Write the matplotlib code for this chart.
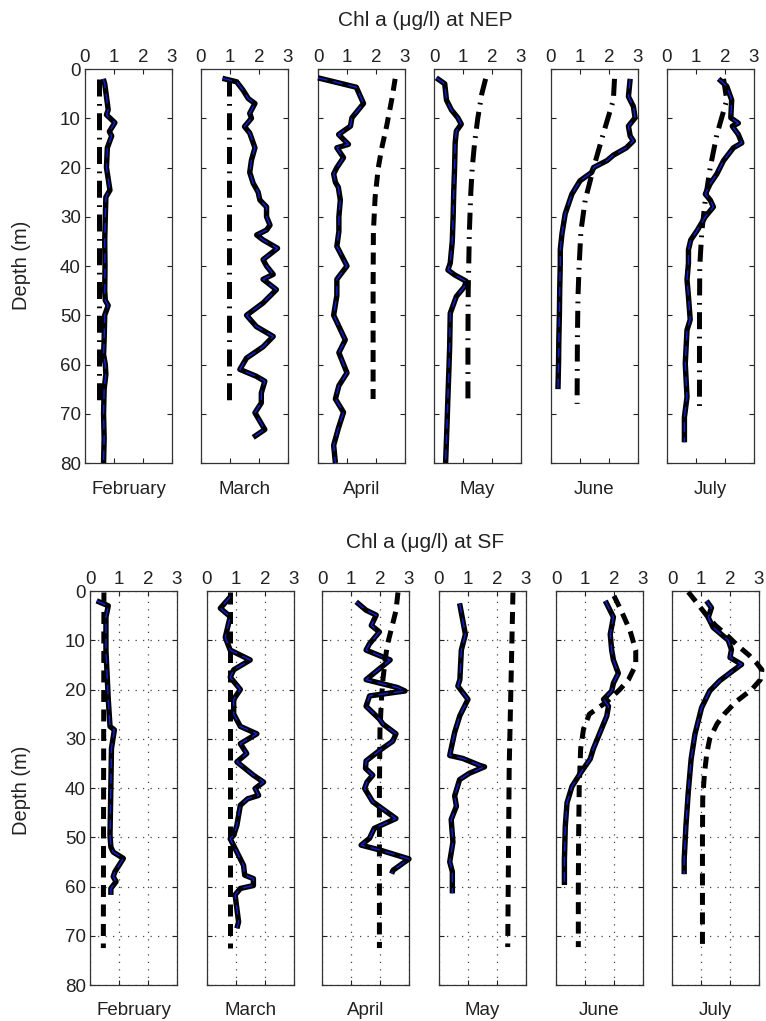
import matplotlib
matplotlib.use("Agg")
import matplotlib.pyplot as plt

plt.rcParams['font.family'] = ['Liberation Sans', 'DejaVu Sans']

W, H = 766, 1021
fig = plt.figure(figsize=(W / 100, H / 100), dpi=100)

months = ["February", "March", "April", "May", "June", "July"]
x_ticks = [0, 1, 2, 3]
depth_ticks = [0, 10, 20, 30, 40, 50, 60, 70, 80]

# ---------------- NEP: observed profiles (depth m, chl ug/l) ----------------
nep_feb_z = [2, 3, 5.6, 8.3, 9.3, 10.9, 12.7, 13.6, 16, 20, 24.6, 26, 30, 35, 40, 45, 47, 48, 50, 55, 58, 60, 62, 65, 70, 75, 80]
nep_feb_c = [0.63, 0.68, 0.74, 0.80, 0.74, 1.03, 0.84, 0.92, 0.77, 0.74, 0.86, 0.72, 0.70, 0.68, 0.69, 0.68, 0.70, 0.80, 0.68, 0.66, 0.64, 0.70, 0.72, 0.66, 0.64, 0.66, 0.64]
nep_mar_z = [1.9, 2.6, 4.3, 6, 7, 9, 10, 11.7, 13, 16, 18.5, 21, 23.2, 25, 26.6, 28, 30, 31.7, 32.7, 33.7, 34.7, 36.4, 38.7, 40, 41.7, 42.7, 44.8, 47.5, 50, 52.3, 54.3, 56.4, 58.7, 61, 62.4, 63.4, 65.8, 67.8, 69.8, 73.2, 74.8]
nep_mar_c = [0.74, 1.23, 1.45, 1.63, 1.86, 1.68, 1.74, 1.50, 1.68, 1.86, 1.74, 1.68, 1.80, 1.97, 2.03, 2.26, 2.26, 2.38, 2.26, 1.92, 2.14, 2.64, 2.14, 2.26, 2.49, 2.14, 2.60, 2.14, 1.57, 1.91, 2.49, 2.14, 1.57, 1.34, 1.91, 2.20, 2.08, 2.08, 1.86, 2.20, 1.80]
nep_apr_z = [1.8, 3.7, 7, 9.9, 11.6, 13.3, 15.3, 16, 18, 20, 21.3, 23, 24, 26.6, 30, 33, 36, 40, 42.7, 46, 50, 55, 57.6, 61.7, 64.3, 67, 69.7, 73, 76.4, 80]
nep_apr_c = [0.0, 1.32, 1.57, 1.17, 1.12, 0.71, 1.05, 0.65, 0.88, 0.65, 0.54, 0.60, 0.70, 0.77, 0.72, 0.72, 0.65, 1.00, 0.65, 0.65, 0.54, 0.94, 0.72, 1.00, 0.72, 0.60, 0.88, 0.70, 0.54, 0.60]
nep_may_z = [1.8, 3, 6.3, 8.3, 9.9, 11.2, 12.6, 15, 20, 25, 30, 35, 39.4, 40.8, 41.8, 43.1, 44.2, 46.2, 49.6, 56.4, 60, 66.6, 72, 80]
nep_may_c = [0.08, 0.37, 0.43, 0.60, 0.82, 0.94, 0.77, 0.73, 0.71, 0.68, 0.66, 0.63, 0.56, 0.48, 0.71, 1.11, 1.05, 0.77, 0.56, 0.54, 0.52, 0.48, 0.45, 0.40]
nep_jun_z = [2, 5.6, 7.6, 9.9, 11.6, 13.6, 14.6, 16, 17.5, 18.6, 20, 21, 22.7, 25.4, 29.4, 33.4, 36.7, 39.4, 45, 49.6, 55, 59.8, 65]
nep_jun_c = [2.73, 2.67, 2.84, 2.90, 2.67, 2.73, 2.84, 2.60, 2.15, 1.93, 1.47, 1.40, 1.00, 0.72, 0.49, 0.38, 0.32, 0.32, 0.30, 0.29, 0.27, 0.26, 0.24]
nep_jul_z = [2, 3.5, 6.3, 9.9, 11, 11.6, 13.3, 15, 16, 18.6, 21.3, 23.3, 25.4, 26.6, 28, 30, 32.7, 34.7, 36.7, 39.4, 42.8, 46.2, 50.9, 53, 59.8, 66.6, 70.7, 75.8]
nep_jul_c = [1.78, 2.06, 2.23, 2.20, 2.46, 2.25, 2.46, 2.58, 2.29, 1.95, 1.72, 1.49, 1.32, 1.49, 1.60, 1.32, 1.05, 0.82, 0.74, 0.74, 0.69, 0.74, 0.80, 0.69, 0.63, 0.69, 0.60, 0.60]

# ---------------- NEP: modelled profiles ----------------
nep_feb_mz = [2, 35, 68]
nep_feb_mc = [0.48, 0.48, 0.48]
nep_mar_mz = [2, 35, 68]
nep_mar_mc = [0.95, 0.95, 0.95]
nep_apr_mz = [2, 6, 11.5, 16, 20, 26, 33, 45, 55, 67]
nep_apr_mc = [2.66, 2.55, 2.37, 2.2, 2.08, 1.97, 1.91, 1.90, 1.90, 1.90]
nep_may_mz = [2, 5, 10, 15, 20, 25, 33, 45, 55, 68]
nep_may_mc = [1.78, 1.65, 1.51, 1.40, 1.32, 1.27, 1.22, 1.18, 1.17, 1.17]
nep_jun_mz = [2, 6.3, 13, 20, 26.6, 33, 40, 46.2, 55, 68]
nep_jun_mc = [2.19, 2.15, 1.81, 1.47, 1.18, 1.03, 0.97, 0.93, 0.91, 0.90]
nep_jul_mz = [2, 6.3, 13.3, 20, 26.6, 33, 40, 50, 60, 69.5]
nep_jul_mc = [1.95, 2.06, 1.72, 1.49, 1.32, 1.20, 1.13, 1.12, 1.12, 1.12]

# ---------------- SF: observed profiles ----------------
sf_feb_z = [2, 3, 5.3, 12, 22, 27.5, 28.2, 32, 39.5, 49.6, 52, 53, 54.3, 57, 58, 59, 60.4, 61.7]
sf_feb_c = [0.23, 0.63, 0.55, 0.55, 0.63, 0.69, 0.84, 0.74, 0.72, 0.69, 0.72, 0.80, 1.15, 0.86, 0.80, 0.90, 0.72, 0.72]
sf_mar_z = [1.2, 3.5, 5.2, 9.4, 12, 14, 16, 17.5, 20, 22, 25, 27.5, 29, 31, 33, 34.7, 37.4, 38.8, 40.1, 41.5, 42.2, 43.5, 47.6, 49.6, 50.3, 51.7, 54.4, 55.7, 57.7, 58.4, 59.8, 60.4, 61.7, 64.5, 67.2, 68.5]
sf_mar_c = [0.80, 0.46, 0.80, 0.63, 0.80, 1.49, 0.92, 0.80, 1.15, 0.92, 0.92, 1.15, 1.72, 1.15, 1.37, 1.03, 1.60, 1.95, 1.66, 1.78, 1.40, 1.15, 1.03, 0.92, 0.80, 0.92, 1.15, 1.26, 1.30, 1.60, 1.60, 1.15, 0.97, 1.03, 1.09, 1.03]
sf_apr_z = [2.2, 3.9, 4.9, 7, 8.3, 10.7, 12, 14, 18, 19.6, 20.3, 21.3, 23.4, 26, 27, 29, 30.5, 32.4, 34.5, 36, 37.4, 38.8, 40.1, 42.8, 46.2, 48.2, 50.2, 51.6, 52.6, 54.4, 56.7, 57.4]
sf_apr_c = [1.18, 1.52, 1.87, 1.70, 1.98, 1.64, 1.52, 2.35, 1.52, 2.60, 2.86, 1.64, 1.52, 1.98, 2.10, 2.55, 2.44, 1.98, 1.52, 1.50, 1.75, 1.55, 1.47, 1.75, 2.55, 1.80, 1.64, 1.35, 2.00, 3.00, 2.45, 2.40]
sf_may_z = [2.5, 8.8, 12, 18, 19.3, 22, 25.3, 28.7, 32, 33.4, 34, 35.4, 35.7, 37, 38.3, 41.6, 43.7, 46.4, 51, 55, 57, 61.4]
sf_may_c = [0.71, 0.91, 0.77, 0.72, 0.65, 1.00, 0.72, 0.54, 0.42, 0.37, 0.82, 1.40, 1.57, 1.05, 0.71, 0.54, 0.60, 0.42, 0.48, 0.37, 0.46, 0.46]
sf_jun_z = [2, 5.3, 8.8, 12, 14, 16.7, 18.7, 20.3, 22, 23.4, 25.4, 28.7, 32, 34.1, 37, 39.7, 43, 47.8, 54.6, 59.7]
sf_jun_c = [1.70, 1.98, 1.87, 1.92, 1.98, 2.15, 1.98, 1.92, 1.64, 1.81, 1.75, 1.52, 1.29, 1.18, 0.84, 0.55, 0.38, 0.32, 0.29, 0.29]
sf_jul_z = [2, 3.4, 5.4, 7.4, 10, 11.9, 13.5, 14.9, 16.2, 18.2, 20.3, 23.7, 29.1, 34.1, 40.9, 47.7, 54.5, 57.5]
sf_jul_c = [1.19, 1.36, 1.25, 1.42, 1.94, 2.05, 2.00, 2.40, 2.10, 1.65, 1.30, 1.02, 0.79, 0.66, 0.56, 0.48, 0.42, 0.42]

# ---------------- SF: modelled profiles ----------------
sf_feb_mz = [0.3, 36, 72.5]
sf_feb_mc = [0.48, 0.47, 0.46]
sf_mar_mz = [0.3, 36, 72.5]
sf_mar_mc = [0.78, 0.78, 0.78]
sf_apr_mz = [0.3, 4, 8, 11, 14, 18, 22, 28, 40, 72.5]
sf_apr_mc = [2.62, 2.55, 2.38, 2.25, 2.18, 2.10, 2.05, 2.00, 1.98, 1.98]
sf_may_mz = [0.3, 36, 72.3]
sf_may_mc = [2.55, 2.42, 2.37]
sf_jun_mz = [1, 4, 8, 12, 15, 18, 20, 22.5, 25, 28, 32, 40, 50, 60, 72.3]
sf_jun_mc = [2.00, 2.25, 2.55, 2.75, 2.75, 2.50, 2.20, 1.75, 1.15, 0.95, 0.85, 0.80, 0.78, 0.77, 0.77]
sf_jul_mz = [0.2, 1.9, 5, 7, 9, 11, 13, 14.5, 16, 18, 20, 22.5, 25, 27, 30, 33, 37, 42, 50, 60, 72.5]
sf_jul_mc = [0.56, 0.79, 1.20, 1.50, 1.90, 2.25, 2.65, 2.90, 3.10, 3.05, 2.75, 2.20, 1.80, 1.55, 1.30, 1.20, 1.12, 1.06, 1.05, 1.05, 1.05]

nep_obs = [(nep_feb_c, nep_feb_z), (nep_mar_c, nep_mar_z), (nep_apr_c, nep_apr_z),
           (nep_may_c, nep_may_z), (nep_jun_c, nep_jun_z), (nep_jul_c, nep_jul_z)]
nep_mod = [(nep_feb_mc, nep_feb_mz), (nep_mar_mc, nep_mar_mz), (nep_apr_mc, nep_apr_mz),
           (nep_may_mc, nep_may_mz), (nep_jun_mc, nep_jun_mz), (nep_jul_mc, nep_jul_mz)]
sf_obs = [(sf_feb_c, sf_feb_z), (sf_mar_c, sf_mar_z), (sf_apr_c, sf_apr_z),
          (sf_may_c, sf_may_z), (sf_jun_c, sf_jun_z), (sf_jul_c, sf_jul_z)]
sf_mod = [(sf_feb_mc, sf_feb_mz), (sf_mar_mc, sf_mar_mz), (sf_apr_mc, sf_apr_mz),
          (sf_may_mc, sf_may_mz), (sf_jun_mc, sf_jun_mz), (sf_jul_mc, sf_jul_mz)]

DASH = (0, (2.4, 1.5))
DASHDOT = (0, (3.4, 1.5, 0.35, 1.5))
nep_styles = [DASHDOT, DASHDOT, DASH, DASHDOT, DASHDOT, DASHDOT]
sf_styles = [DASH] * 6

FS = 13.5


def px_axes(left, top, width, height):
    return fig.add_axes([left / W, 1 - (top + height) / H, width / W, height / H])


def draw_row(lefts, top, obs, mod, styles, grid, title, title_y, month_y, ylabel_y):
    for i, ax_left in enumerate(lefts):
        ax = px_axes(ax_left, top, 87, 394)
        mc, mz = mod[i]
        ax.plot(mc, mz, color='black', lw=3.6, ls=styles[i], clip_on=False, zorder=3)
        oc, oz = obs[i]
        ax.plot(oc, oz, color='black', lw=3.9, solid_joinstyle='round',
                solid_capstyle='butt', clip_on=False, zorder=4)
        ax.plot(oc, oz, color='#1020d8', lw=1.0, ls=(0, (7, 4)),
                clip_on=False, zorder=5)
        ax.set_xlim(0, 3)
        ax.set_ylim(80, 0)
        ax.set_xticks(x_ticks)
        ax.set_yticks(depth_ticks)
        ax.xaxis.set_ticks_position('both')
        ax.yaxis.set_ticks_position('both')
        ax.tick_params(axis='both', direction='in', length=3.5, width=0.8,
                       labelsize=FS, colors='#222222', labelcolor='#222222')
        ax.tick_params(axis='x', labeltop=True, labelbottom=False, pad=2)
        ax.tick_params(axis='y', pad=3)
        if i > 0:
            ax.tick_params(axis='y', labelleft=False)
        for sp in ax.spines.values():
            sp.set_linewidth(0.9)
            sp.set_color('#333333')
        if grid:
            ax.grid(True, color='#444444', lw=0.9, ls=(0, (1, 5)))
            ax.set_axisbelow(True)
        fig.text((ax_left + 43.5) / W, 1 - month_y / H, months[i],
                 ha='center', va='center', fontsize=FS, color='#222222')
    fig.text(425 / W, 1 - title_y / H, title, ha='center', va='center',
             fontsize=15, color='#222222')
    fig.text(22 / W, 1 - ylabel_y / H, "Depth (m)", ha='center', va='center',
             rotation=90, fontsize=14.5, color='#222222')


draw_row([85, 201, 318, 434, 551, 667], 69, nep_obs, nep_mod, nep_styles, False,
         "Chl a (\u03bcg/l) at NEP", 21, 489, 265)
draw_row([90, 207, 322, 439, 556, 672], 591, sf_obs, sf_mod, sf_styles, True,
         "Chl a (\u03bcg/l) at SF", 543, 1010, 790)

fig.savefig("out.png", dpi=100, facecolor='white')
